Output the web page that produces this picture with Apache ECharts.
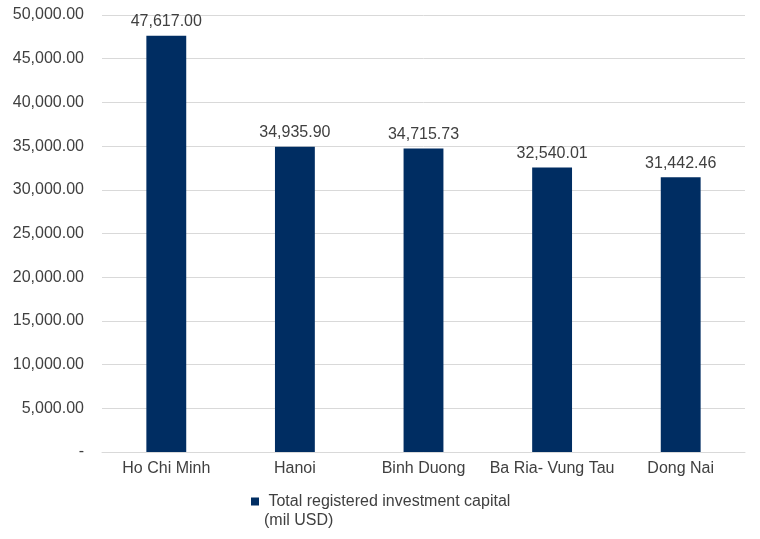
<!DOCTYPE html>
<html><head><meta charset="utf-8">
<script src="https://cdn.jsdelivr.net/npm/echarts@6/dist/echarts.min.js"></script>
<style>html,body{margin:0;padding:0;background:#fff}#c{width:760px;height:539px}</style>
</head><body><div id="c"></div>
<script>
var categories = ["Ho Chi Minh", "Hanoi", "Binh Duong", "Ba Ria- Vung Tau", "Dong Nai"];
var capital = [47617.00, 34935.90, 34715.73, 32540.01, 31442.46];
var seriesName = " Total registered investment capital\n(mil USD)";

function fmt(v) {
  if (v === 0) return "-";
  return v.toLocaleString("en-US", {minimumFractionDigits: 2, maximumFractionDigits: 2});
}
var chart = echarts.init(document.getElementById("c"));
chart.setOption({
  animation: false,
  textStyle: {fontFamily: "Liberation Sans"},
  grid: {left: 102, right: 15, top: 15, bottom: 87},
  xAxis: {
    type: "category", data: categories,
    axisLine: {lineStyle: {color: "#d9d9d9"}},
    axisTick: {show: false},
    axisLabel: {color: "#404040", fontSize: 16, margin: 9, interval: 0}
  },
  yAxis: {
    type: "value", min: 0, max: 50000, interval: 5000,
    axisLine: {show: false}, axisTick: {show: false},
    splitLine: {lineStyle: {color: "#d9d9d9"}},
    axisLabel: {color: "#404040", fontSize: 16, margin: 18, formatter: fmt}
  },
  legend: {
    bottom: 4, left: 246, itemWidth: 8, itemHeight: 27, itemGap: 10,
    icon: "path://M0,0h8v8h-8z M0,27h0.01",
    textStyle: {color: "#404040", fontSize: 16, lineHeight: 19},
    data: [seriesName]
  },
  series: [{
    name: seriesName, type: "bar", data: capital, barWidth: "31%",
    itemStyle: {color: "#002D62"},
    label: {show: true, position: "top", color: "#404040", fontSize: 16, distance: 6, formatter: function(p){return fmt(p.value);}}
  }]
});
</script></body></html>
